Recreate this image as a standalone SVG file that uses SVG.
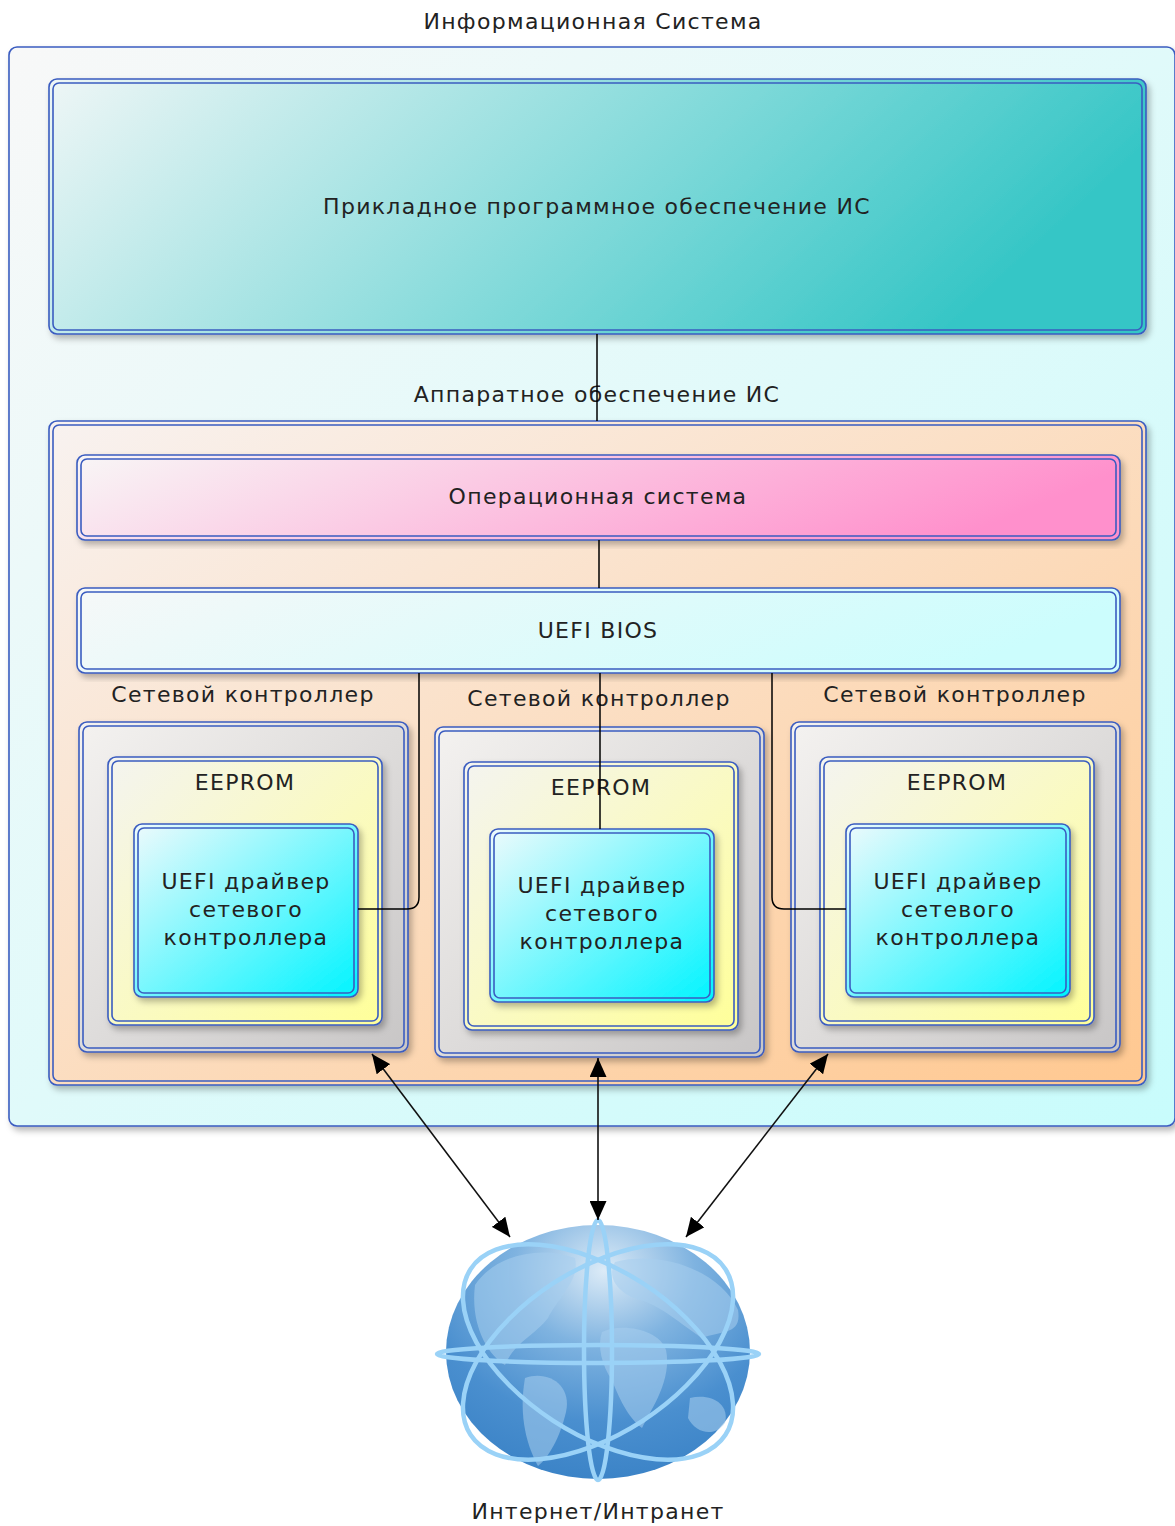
<svg xmlns="http://www.w3.org/2000/svg" width="1175" height="1526" viewBox="0 0 1175 1526">
<style>
.t{font-family:"DejaVu Sans",Verdana,sans-serif;font-size:22px;fill:#222;text-anchor:middle;letter-spacing:1.3px}
.o{stroke:#3a5cc0;stroke-width:1.6;filter:url(#sh)}
.b{fill:none;stroke:#3a5cc0;stroke-width:1.6}
.c{fill:none;stroke:#000;stroke-width:1.5}
.a{fill:none;stroke:#111;stroke-width:1.6;marker-start:url(#ah);marker-end:url(#ah)}
.ring{fill:none;stroke:#9ad2f7;stroke-width:4.5}
</style>
<defs>
<filter id="sh" x="-5%" y="-5%" width="115%" height="115%">
<feDropShadow dx="3" dy="4" stdDeviation="3" flood-color="#000" flood-opacity="0.28"/>
</filter>
<linearGradient id="gOut" x1="0" y1="0" x2="1" y2="1"><stop offset="0" stop-color="#f8f8f8"/><stop offset="1" stop-color="#c8fcfc"/></linearGradient>
<linearGradient id="gApp" x1="0" y1="0" x2="1" y2="0.25"><stop offset="0" stop-color="#eef6f6"/><stop offset="1" stop-color="#36c6c6"/></linearGradient>
<linearGradient id="gHw" x1="0" y1="0" x2="1" y2="1"><stop offset="0" stop-color="#f8f2f0"/><stop offset="1" stop-color="#ffc890"/></linearGradient>
<linearGradient id="gOs" x1="0" y1="0" x2="1" y2="0.2"><stop offset="0" stop-color="#f8f6f6"/><stop offset="1" stop-color="#ff90cc"/></linearGradient>
<linearGradient id="gBios" x1="0" y1="0" x2="1" y2="0.2"><stop offset="0" stop-color="#f6f8f8"/><stop offset="1" stop-color="#ccfdfd"/></linearGradient>
<linearGradient id="gNc" x1="0" y1="0" x2="1" y2="1"><stop offset="0" stop-color="#f4f2f0"/><stop offset="1" stop-color="#c8c6c6"/></linearGradient>
<linearGradient id="gEe" x1="0" y1="0" x2="1" y2="1"><stop offset="0" stop-color="#f4f4f0"/><stop offset="1" stop-color="#ffff99"/></linearGradient>
<linearGradient id="gDr" x1="0" y1="0" x2="1" y2="1"><stop offset="0" stop-color="#eefafc"/><stop offset="1" stop-color="#00f4ff"/></linearGradient>
<radialGradient id="gGlobe" cx="0.52" cy="0.18" r="0.85"><stop offset="0" stop-color="#dcebf7"/><stop offset="0.35" stop-color="#7fb3e0"/><stop offset="0.7" stop-color="#4a8fcf"/><stop offset="1" stop-color="#3a82c6"/></radialGradient>
<marker id="ah" viewBox="0 0 10 10" refX="10" refY="5" markerWidth="19" markerHeight="17" markerUnits="userSpaceOnUse" orient="auto-start-reverse" preserveAspectRatio="none">
<path d="M0,0 L10,5 L0,10 z" fill="#000"/>
</marker>
</defs>
<rect width="1175" height="1526" fill="#fff"/>

<g id="is">
<rect x="9" y="47" width="1166" height="1079" rx="8" fill="url(#gOut)" class="o"/>
<text class="t" x="593" y="29">Информационная Система</text>
</g>

<g id="app">
<rect x="49" y="79" width="1097" height="255" rx="8" fill="url(#gApp)" class="o"/>
<rect x="53" y="83" width="1089" height="247" rx="6" class="b"/>
<text class="t" x="597" y="214">Прикладное программное обеспечение ИС</text>
</g>

<g id="hw">
<rect x="49" y="421" width="1097" height="664" rx="8" fill="url(#gHw)" class="o"/>
<rect x="53" y="425" width="1089" height="656" rx="6" class="b"/>
<text class="t" x="597" y="402">Аппаратное обеспечение ИС</text>
</g>

<g id="os">
<rect x="77" y="455" width="1043" height="85" rx="8" fill="url(#gOs)" class="o"/>
<rect x="81" y="459" width="1035" height="77" rx="6" class="b"/>
<text class="t" x="598" y="504">Операционная система</text>
</g>

<g id="bios">
<rect x="77" y="588" width="1043" height="85" rx="8" fill="url(#gBios)" class="o"/>
<rect x="81" y="592" width="1035" height="77" rx="6" class="b"/>
<text class="t" x="598" y="638">UEFI BIOS</text>
</g>

<g id="nc1">
<text class="t" x="243" y="702">Сетевой контроллер</text>
<rect x="79" y="722" width="329" height="330" rx="8" fill="url(#gNc)" class="o"/>
<rect x="83" y="726" width="321" height="322" rx="6" class="b"/>
</g>
<g id="ee1">
<rect x="108" y="757" width="274" height="268" rx="8" fill="url(#gEe)" class="o"/>
<rect x="112" y="761" width="266" height="260" rx="6" class="b"/>
<text class="t" x="245" y="790">EEPROM</text>
</g>
<g id="dr1">
<rect x="134" y="824" width="224" height="173" rx="8" fill="url(#gDr)" class="o"/>
<rect x="138" y="828" width="216" height="165" rx="6" class="b"/>
<text class="t" x="246" y="889">UEFI драйвер</text>
<text class="t" x="246" y="917">сетевого</text>
<text class="t" x="246" y="945">контроллера</text>
</g>

<g id="nc2">
<text class="t" x="599" y="706">Сетевой контроллер</text>
<rect x="435" y="727" width="329" height="330" rx="8" fill="url(#gNc)" class="o"/>
<rect x="439" y="731" width="321" height="322" rx="6" class="b"/>
</g>
<g id="ee2">
<rect x="464" y="762" width="274" height="268" rx="8" fill="url(#gEe)" class="o"/>
<rect x="468" y="766" width="266" height="260" rx="6" class="b"/>
<text class="t" x="601" y="795">EEPROM</text>
</g>
<g id="dr2">
<rect x="490" y="829" width="224" height="173" rx="8" fill="url(#gDr)" class="o"/>
<rect x="494" y="833" width="216" height="165" rx="6" class="b"/>
<text class="t" x="602" y="893">UEFI драйвер</text>
<text class="t" x="602" y="921">сетевого</text>
<text class="t" x="602" y="949">контроллера</text>
</g>

<g id="nc3">
<text class="t" x="955" y="702">Сетевой контроллер</text>
<rect x="791" y="722" width="329" height="330" rx="8" fill="url(#gNc)" class="o"/>
<rect x="795" y="726" width="321" height="322" rx="6" class="b"/>
</g>
<g id="ee3">
<rect x="820" y="757" width="274" height="268" rx="8" fill="url(#gEe)" class="o"/>
<rect x="824" y="761" width="266" height="260" rx="6" class="b"/>
<text class="t" x="957" y="790">EEPROM</text>
</g>
<g id="dr3">
<rect x="846" y="824" width="224" height="173" rx="8" fill="url(#gDr)" class="o"/>
<rect x="850" y="828" width="216" height="165" rx="6" class="b"/>
<text class="t" x="958" y="889">UEFI драйвер</text>
<text class="t" x="958" y="917">сетевого</text>
<text class="t" x="958" y="945">контроллера</text>
</g>

<g id="globe">
<ellipse cx="598" cy="1352" rx="152" ry="127" fill="url(#gGlobe)"/>
<g fill="#a8cfef" opacity="0.55">
<path d="M475,1285 C495,1255 540,1245 575,1258 C580,1280 560,1295 548,1318 C535,1335 515,1342 505,1365 C488,1355 470,1325 475,1285 z"/>
<path d="M525,1378 C548,1370 572,1385 566,1412 C560,1438 548,1458 538,1466 C528,1448 518,1418 525,1378 z"/>
<path d="M602,1332 C622,1322 660,1330 666,1350 C672,1380 652,1408 642,1428 C628,1418 618,1396 612,1380 C602,1366 597,1346 602,1332 z"/>
<path d="M615,1262 C660,1250 720,1270 738,1310 C742,1335 722,1330 702,1338 C682,1325 660,1305 640,1300 C622,1295 605,1280 615,1262 z"/>
<path d="M690,1398 C710,1393 730,1403 725,1423 C715,1438 695,1433 688,1418 z"/>
</g>
<ellipse class="ring" cx="598" cy="1354" rx="161" ry="9"/>
<ellipse class="ring" cx="598" cy="1350" rx="14" ry="130"/>
<ellipse class="ring" cx="598" cy="1352" rx="152" ry="82" transform="rotate(33 598 1352)"/>
<ellipse class="ring" cx="598" cy="1352" rx="152" ry="82" transform="rotate(-33 598 1352)"/>
<text class="t" x="598" y="1519">Интернет/Интранет</text>
</g>

<g id="connectors">
<path class="c" d="M597,334 V421"/>
<path class="c" d="M599,540 V588"/>
<path class="c" d="M600,673 V829"/>
<path class="c" d="M419,673 V897 Q419,909 407,909 H358"/>
<path class="c" d="M772,673 V897 Q772,909 784,909 H846"/>
<path class="a" d="M372,1054 L510,1237"/>
<path class="a" d="M598,1058 L598,1220"/>
<path class="a" d="M828,1054 L686,1237"/>
</g>
</svg>
